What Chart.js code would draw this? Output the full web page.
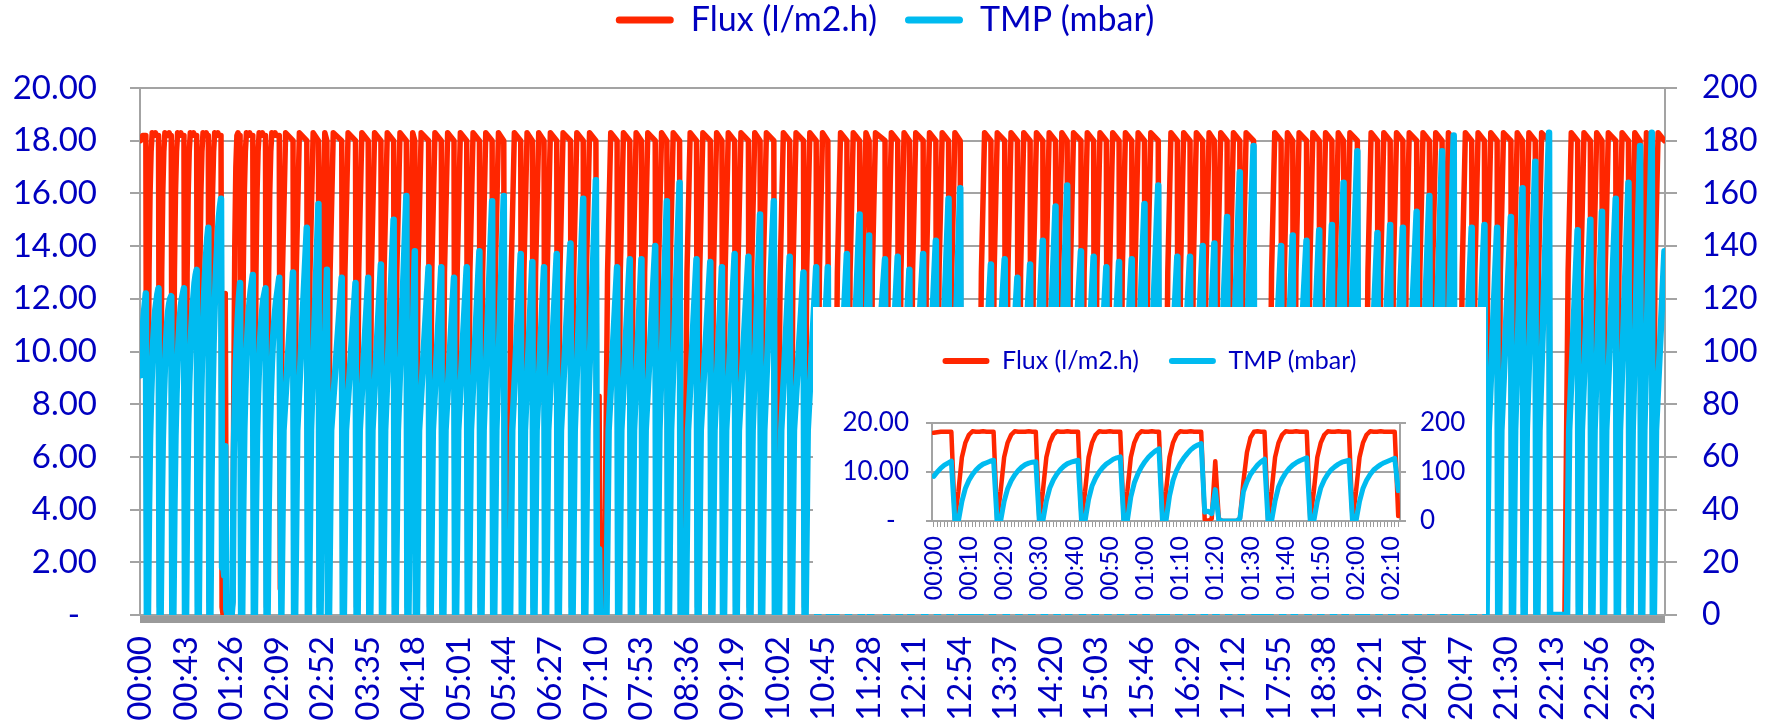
<!DOCTYPE html>
<html>
<head>
<meta charset="utf-8">
<script src="https://cdn.jsdelivr.net/npm/chart.js@4.4.1/dist/chart.umd.min.js"></script>
<style>
  html, body { margin: 0; padding: 0; background: #ffffff; }
  #wrap { position: relative; width: 1770px; height: 725px; overflow: hidden; background: #ffffff; }
  #main { position: absolute; left: 0; top: 0; }
  #insetBox { position: absolute; left: 813px; top: 307px; width: 673px; height: 307px; background: #ffffff; }
</style>
</head>
<body>
<div id="wrap">
  <canvas id="main" width="1770" height="725"></canvas>
  <div id="insetBox"><canvas id="inset" width="673" height="307"></canvas></div>
</div>
<script>
// ---------------- DATA ----------------
const seriesNames = ['Flux (l/m2.h)', 'TMP (mbar)'];

const mainTimeLabels = ['00:00','00:43','01:26','02:09','02:52','03:35','04:18','05:01','05:44','06:27',
  '07:10','07:53','08:36','09:19','10:02','10:45','11:28','12:11','12:54','13:37','14:20','15:03',
  '15:46','16:29','17:12','17:55','18:38','19:21','20:04','20:47','21:30','22:13','22:56','23:39'];
const insetTimeLabels = ['00:00','00:10','00:20','00:30','00:40','00:50','01:00','01:10','01:20',
  '01:30','01:40','01:50','02:00','02:10'];
const fluxTickLabels = ['-  ','2.00','4.00','6.00','8.00','10.00','12.00','14.00','16.00','18.00','20.00'];
const tmpTickLabels = ['0','20','40','60','80','100','120','140','160','180','200'];
const insetFluxTickLabels = ['-  ','10.00','20.00'];
const insetTmpTickLabels = ['0','100','200'];

// minute-by-minute values, 00:00 .. 02:12 (inset, also start of the day)
const insetFlux = [
  18.0,18.1,18.2,18.2,18.2,18.2,
  0.3,6,13,16,17.6,18.3,18.2,18.2,18.3,18.2,18.2,18.2,
  0.3,6,13,16,17.6,18.3,18.2,18.2,18.2,18.3,18.2,18.2,
  0.3,6,13,16,17.6,18.3,18.2,18.2,18.3,18.2,18.2,18.2,
  0.3,6,13,16,17.6,18.3,18.2,18.2,18.3,18.2,18.2,18.2,
  0.3,6,13,16,17.6,18.3,18.2,18.2,18.3,18.2,18.2,
  0.5,6,13,16,17.6,18.3,18.2,18.2,18.3,18.2,18.2,18.2,
  0.3,0,0.5,12.2,0.5,0,0,0,0,0,0.5,8,14,17,18.2,18.3,18.2,18.2,
  0.3,6,13,16,17.6,18.3,18.2,18.2,18.3,18.2,18.2,18.2,
  0.3,6,13,16,17.6,18.3,18.2,18.2,18.3,18.2,18.2,18.2,
  0.3,6,13,16,17.6,18.3,18.2,18.2,18.3,18.2,18.2,18.2,18.2,
  1
];
const insetTmp = [
  91,100,108,114,118,122,
  0,0,40,67,83,95,104,111,116,119,122,124,
  0,0,40,66,82,94,103,110,115,118,120,121,
  0,0,41,68,84,96,105,112,117,120,122,124,
  0,0,44,72,88,100,109,116,121,126,129,131,
  0,0,49,78,96,110,121,130,137,143,147,
  0,0,51,83,103,117,128,137,145,151,155,158,
  18,20,15,64,2,0,0,0,0,0,5,60,80,95,105,114,121,126,
  0,0,41,70,86,98,107,114,119,123,126,129,
  0,0,40,68,84,96,105,111,116,120,122,124,
  0,0,40,67,83,95,104,110,115,119,122,125,128,
  62
];

// rest of the day: minute of each TMP peak (start of backwash) and peak TMP
const cycleEnd = [144,157,168,176,190,203,215,227,239,251,259,272,284,296,308,320,332,343,
  359,370,381,393,406,418,430,450,462,473,486,497,509,525,538,549,561,574,585,598,613,626,
  638,649,667,679,688,703,715,726,739,751,763,774,803,816,828,840,852,864,875,888,900,912,
  924,936,948,961,979,991,1003,1014,1026,1038,1051,1077,1088,1101,1113,1125,1136,1149,1168,
  1180,1192,1205,1217,1229,1240,1257,1269,1281,1294,1305,1317,1330,1357,1369,1380,1393,1405,
  1416,1427,1439];
const tmpPeak = [130,147,156,131,128,126,128,133,150,159,138,132,132,128,132,138,157,159,
  137,134,132,137,141,158,165,132,135,135,140,157,164,135,134,132,137,136,152,157,136,130,
  132,132,137,152,144,135,136,131,137,142,158,162,133,135,128,133,142,155,163,138,136,132,
  134,135,156,163,136,136,140,141,151,168,178,140,144,142,146,148,164,176,145,
  148,147,153,159,176,182,147,148,147,151,162,172,183,146,150,153,158,164,
  178,183,138];
// minutes at which filtration restarts after a stop / long pause
const restartAfterStop = [348,439,514,602,656,792,968,1066,1157,1246,1346];
// short disturbance around 07:13
const eventX = [432,433,434];
const eventFlux = [0.3,8.3,0.3];
const eventTmp = [0,25,0];
// levels read from the cycles
const F_LOW = 0.3, F_RAMP = 13, F_TOP = 18.3, F_RUN = 18.0, T_RISE = 70;

// ---------------- BUILD SERIES ----------------
function buildMain() {
  const flux = [], tmp = [];
  insetFlux.forEach((v, i) => flux.push({x: i, y: v}));
  insetTmp.forEach((v, i) => tmp.push({x: i, y: v}));
  const last = insetFlux.length - 1;
  const addF = (x, y) => { if (x > last) flux.push({x, y}); };
  const addT = (x, y) => { if (x > last) tmp.push({x, y}); };
  let p = last - 1;
  for (let k = 0; k < cycleEnd.length; k++) {
    const e = cycleEnd[k];
    const r = restartAfterStop.find(t => t > p && t < e);
    if (r !== undefined) {
      addF(p + 1, 0); addF(r - 1, 0); addT(p + 1, 0);
      p = r - 1;
      addT(p + 1, 0); addT(p + 2, 0); addT(p + 4, T_RISE); addT(e, tmpPeak[k]);
      addF(p + 3, F_RAMP); addF(p + 6, F_TOP); addF(e, F_RUN);
    } else {
      addT(p + 1, 0); addT(p + 2, 0); addT(p + 4, T_RISE); addT(e, tmpPeak[k]);
      addF(p + 1, F_LOW); addF(p + 3, F_RAMP); addF(p + 6, F_TOP); addF(e, F_RUN);
    }
    p = e;
  }
  eventX.forEach((x, i) => { flux.push({x, y: eventFlux[i]}); tmp.push({x, y: eventTmp[i]}); });
  flux.sort((a, b) => a.x - b.x);
  tmp.sort((a, b) => a.x - b.x);
  return {flux, tmp};
}
const mainSeries = buildMain();
const insetFluxPts = insetFlux.map((v, i) => ({x: i, y: v}));
const insetTmpPts = insetTmp.map((v, i) => ({x: i, y: v}));

// ---------------- STYLE ----------------
const TEXT = '#0000c0', GRID = '#a3a3a3', BAND = '#9a9a9a', RED = '#ff2600', BLUE = '#00bbf0';
Chart.defaults.font.family = "Lato, sans-serif";

function legendLabels(font, boxW, boxH, pad) {
  return {
    color: TEXT, font: font, boxWidth: boxW, boxHeight: boxH, padding: pad,
    useBorderRadius: true, borderRadius: boxH / 2,
    sort: (a, b) => a.datasetIndex - b.datasetIndex,
    generateLabels: (chart) => Chart.defaults.plugins.legend.labels.generateLabels(chart)
      .map(l => Object.assign(l, {lineWidth: 0}))
  };
}

function minuteTicks(n) { const t = []; for (let i = 0; i < n; i++) t.push({value: i}); return t; }

// ---------------- MAIN CHART ----------------
new Chart(document.getElementById('main'), {
  type: 'line',
  data: {
    datasets: [
      { label: seriesNames[0], data: mainSeries.flux, yAxisID: 'y', borderColor: RED, backgroundColor: RED,
        borderWidth: 5.5, order: 2 },
      { label: seriesNames[1], data: mainSeries.tmp, yAxisID: 'y2', borderColor: BLUE, backgroundColor: BLUE,
        borderWidth: 6.5, order: 1 }
    ]
  },
  options: {
    responsive: false, animation: false, devicePixelRatio: 1,
    elements: { point: { radius: 0 }, line: { tension: 0, borderCapStyle: 'round', borderJoinStyle: 'round' } },
    layout: { padding: { top: -25, left: 0, right: 0, bottom: 0 } },
    plugins: {
      legend: { position: 'top', labels: legendLabels({family: 'Lato', size: 34}, 58, 7, 28) },
      tooltip: { enabled: false }
    },
    scales: {
      x: {
        type: 'linear', min: -0.5, max: 1439.5,
        afterBuildTicks: (s) => { s.ticks = minuteTicks(1440); },
        ticks: { autoSkip: false, minRotation: 90, maxRotation: 90, color: TEXT, padding: 13,
          font: { size: 33 },
          callback: (v) => (v % 43 === 0 ? mainTimeLabels[v / 43] : '') },
        grid: { drawOnChartArea: false, drawTicks: true, tickLength: 8, color: BAND, lineWidth: 2 },
        border: { color: GRID, width: 2 },
        afterFit: (s) => { s.height = 110; }
      },
      xTop: {
        type: 'linear', position: 'top', min: 0, max: 1, display: true,
        ticks: { display: false }, grid: { display: false }, border: { display: false },
        afterFit: (s) => { s.height = 41; }
      },
      y: {
        position: 'left', min: 0, max: 20,
        ticks: { stepSize: 2, color: TEXT, padding: 33, font: { size: 33 },
          callback: (v) => fluxTickLabels[Math.round(v / 2)] },
        grid: { color: GRID, lineWidth: 2, tickLength: 10 },
        border: { color: GRID, width: 2 },
        afterFit: (s) => { s.width = 140; }
      },
      y2: {
        position: 'right', min: 0, max: 200,
        ticks: { stepSize: 20, color: TEXT, padding: 25, font: { size: 32 },
          callback: (v) => tmpTickLabels[Math.round(v / 20)] },
        grid: { drawOnChartArea: false, color: GRID, lineWidth: 2, tickLength: 12 },
        border: { color: GRID, width: 2 },
        afterFit: (s) => { s.width = 105; }
      }
    }
  }
});

// ---------------- INSET CHART ----------------
new Chart(document.getElementById('inset'), {
  type: 'line',
  data: {
    datasets: [
      { label: seriesNames[0], data: insetFluxPts, yAxisID: 'y', borderColor: RED, backgroundColor: RED,
        borderWidth: 4.5, order: 2 },
      { label: seriesNames[1], data: insetTmpPts, yAxisID: 'y2', borderColor: BLUE, backgroundColor: BLUE,
        borderWidth: 5, order: 1 }
    ]
  },
  options: {
    responsive: false, animation: false, devicePixelRatio: 1,
    elements: { point: { radius: 0 }, line: { tension: 0, borderCapStyle: 'round', borderJoinStyle: 'round' } },
    layout: { padding: { top: 11.5, left: 0, right: 0, bottom: 0 } },
    plugins: {
      legend: { position: 'top', labels: legendLabels({family: 'Lato', size: 25}, 47, 6, 30) },
      tooltip: { enabled: false }
    },
    scales: {
      x: {
        type: 'linear', min: -0.5, max: 132.5,
        afterBuildTicks: (s) => { s.ticks = minuteTicks(133); },
        ticks: { autoSkip: false, minRotation: 90, maxRotation: 90, color: TEXT, padding: 9,
          font: { size: 25 },
          callback: (v) => (v % 10 === 0 ? insetTimeLabels[v / 10] : '') },
        grid: { drawOnChartArea: false, drawTicks: true, tickLength: 6, color: BAND, lineWidth: 1 },
        border: { color: GRID, width: 2 },
        afterFit: (s) => { s.height = 93; }
      },
      xTop: {
        type: 'linear', position: 'top', min: 0, max: 1, display: true,
        ticks: { display: false }, grid: { display: false }, border: { display: false },
        afterFit: (s) => { s.height = 39.5; }
      },
      y: {
        position: 'left', min: 0, max: 20,
        ticks: { stepSize: 10, color: TEXT, padding: 17, font: { size: 26 },
          callback: (v) => insetFluxTickLabels[Math.round(v / 10)] },
        grid: { color: GRID, lineWidth: 2, tickLength: 6 },
        border: { color: GRID, width: 2 },
        afterFit: (s) => { s.width = 119; }
      },
      y2: {
        position: 'right', min: 0, max: 200,
        ticks: { stepSize: 100, color: TEXT, padding: 14, font: { size: 26 },
          callback: (v) => insetTmpTickLabels[Math.round(v / 100)] },
        grid: { drawOnChartArea: false, color: GRID, lineWidth: 2, tickLength: 6 },
        border: { color: GRID, width: 2 },
        afterFit: (s) => { s.width = 86; }
      }
    }
  }
});
</script>
</body>
</html>
